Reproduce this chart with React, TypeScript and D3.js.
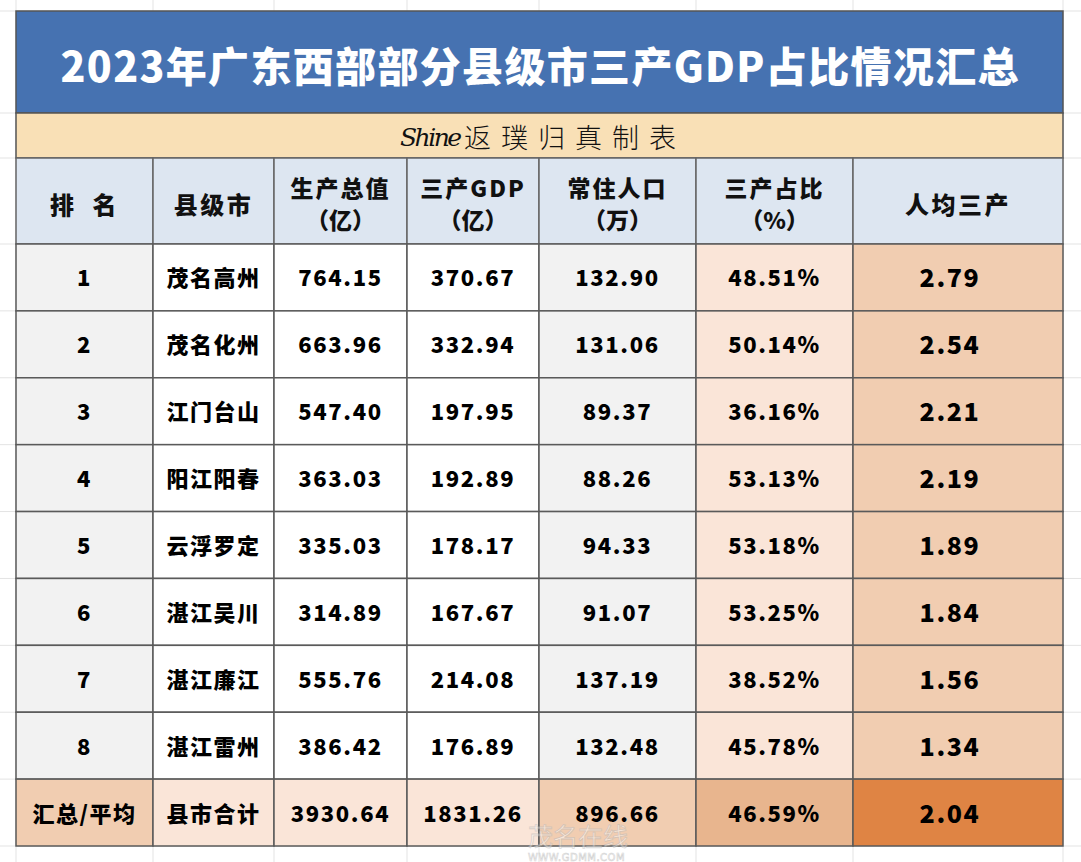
import React from 'react'
import * as d3 from 'd3'

// 表格数据
const ranks = ['1', '2', '3', '4', '5', '6', '7', '8']
const cities = ['茂名高州', '茂名化州', '江门台山', '阳江阳春', '云浮罗定', '湛江吴川', '湛江廉江', '湛江雷州']
const gdpTotal = [764.15, 663.96, 547.40, 363.03, 335.03, 314.89, 555.76, 386.42]
const tertiaryGdp = [370.67, 332.94, 197.95, 192.89, 178.17, 167.67, 214.08, 176.89]
const population = [132.90, 131.06, 89.37, 88.26, 94.33, 91.07, 137.19, 132.48]
const tertiaryShare = [48.51, 50.14, 36.16, 53.13, 53.18, 53.25, 38.52, 45.78]
const perCapita = [2.79, 2.54, 2.21, 2.19, 1.89, 1.84, 1.56, 1.34]

const summaryRow = ['汇总/平均', '县市合计', 3930.64, 1831.26, 896.66, 46.59, 2.04]

const headerTop = ['排  名', '县级市', '生产总值', '三产GDP', '常住人口', '三产占比', '人均三产']
const headerBottom = ['', '', '（亿）', '（亿）', '（万）', '（%）', '']

const title = '2023年广东西部部分县级市三产GDP占比情况汇总'
const subtitleLatin = 'Shine'
const subtitleCjk = '返璞归真制表'

const W = 1081
const H = 862
const colWidths = [137, 121, 133, 132, 157, 157, 210]
const tableLeft = 16
const edges = colWidths.reduce((acc, w) => [...acc, acc[acc.length - 1] + w], [tableLeft])
const tableRight = edges[edges.length - 1]

const font = '"Noto Sans CJK SC", "Noto Sans", sans-serif'
const fmt = d3.format('.2f')

// 列底色
const colFill = ['#f2f2f2', '#ffffff', '#ffffff', '#ffffff', '#f2f2f2', '#fae5d8', '#f1cdb1']
const sumFill = ['#f1cdb1', '#fae5d8', '#fae5d8', '#fae5d8', '#f1cdb1', '#e8b58e', '#df8444']

const App = () => {
    const nRows = ranks.length + 1
    const y = d3.scaleLinear().domain([0, nRows]).range([244, 846])
    const rowH = y(1) - y(0)

    const rows = ranks.map((r, i) => [
        r,
        cities[i],
        fmt(gdpTotal[i]),
        fmt(tertiaryGdp[i]),
        fmt(population[i]),
        fmt(tertiaryShare[i]) + '%',
        fmt(perCapita[i]),
    ])
    const sumCells = summaryRow.map((v, j) =>
        typeof v === 'number' ? (j === 5 ? fmt(v) + '%' : fmt(v)) : v)
    const allRows = [...rows, sumCells]

    const gridYs = [11, 113, 158, ...d3.range(nRows + 1).map(i => y(i))]

    return (
        <div style={{ position: 'absolute', left: 0, top: 0 }}>
            <svg width={W} height={H} style={{ display: 'block', background: '#fff' }}>
                {/* 表格背景网格 */}
                <g stroke="#e3e3e3" strokeWidth={1}>
                    {edges.map((x, i) => <line key={'gx' + i} x1={x} x2={x} y1={0} y2={H} />)}
                    {gridYs.map((gy, i) => <line key={'gy' + i} x1={0} x2={W} y1={gy} y2={gy} />)}
                </g>

                {/* 标题 */}
                <rect x={tableLeft} y={11} width={tableRight - tableLeft} height={102} fill="#4672b1" stroke="#555" strokeWidth={1.5} />
                <text x={(tableLeft + tableRight) / 2} y={64} textAnchor="middle" dominantBaseline="central"
                    fontFamily={font} fontWeight={900} fontSize={41} fill="#fff"
                    textLength={958} lengthAdjust="spacing">{title}</text>

                {/* 副标题 */}
                <rect x={tableLeft} y={113} width={tableRight - tableLeft} height={45} fill="#f9e0b6" stroke="#555" strokeWidth={1.5} />
                <text x={400} y={137} dominantBaseline="central"
                    fontFamily='"DejaVu Serif", serif' fontStyle="italic"
                    fontSize={25} fill="#111" textLength={62} lengthAdjust="spacing">{subtitleLatin}</text>
                <text x={464} y={136} dominantBaseline="central"
                    fontFamily={font} fontWeight={300}
                    fontSize={27} fill="#111" textLength={212} lengthAdjust="spacing">{subtitleCjk}</text>

                {/* 表头 */}
                {headerTop.map((h, j) => {
                    const cx = (edges[j] + edges[j + 1]) / 2
                    const two = headerBottom[j] !== ''
                    return (
                        <g key={'h' + j}>
                            <rect x={edges[j]} y={158} width={colWidths[j]} height={86} fill="#dde6f1" stroke="#666" strokeWidth={1.5} />
                            <text x={cx} y={two ? 187 : 203} textAnchor="middle" dominantBaseline="central"
                                fontFamily={font} fontWeight={900} fontSize={two ? 23 : 24} fill="#111"
                                letterSpacing={two ? 2 : 2.5} style={{ whiteSpace: 'pre' }}>{h}</text>
                            {two && (
                                <text x={cx} y={219} textAnchor="middle" dominantBaseline="central"
                                    fontFamily={font} fontWeight={900} fontSize={23} fill="#111">{headerBottom[j]}</text>
                            )}
                        </g>
                    )
                })}

                {/* 数据行 */}
                {allRows.map((row, i) => {
                    const isSum = i === allRows.length - 1
                    return (
                        <g key={'r' + i}>
                            {row.map((cell, j) => {
                                const cx = (edges[j] + edges[j + 1]) / 2 - (j === 6 ? 8 : 0)
                                return (
                                    <g key={'c' + j}>
                                        <rect x={edges[j]} y={y(i)} width={colWidths[j]} height={rowH}
                                            fill={isSum ? sumFill[j] : colFill[j]} stroke="#5a5a5a" strokeWidth={1.5} />
                                        <text x={cx} y={y(i) + rowH / 2 - 1} textAnchor="middle" dominantBaseline="central"
                                            fontFamily={font} fontWeight={900}
                                            fontSize={j === 6 ? 25 : 22} fill="#000"
                                            letterSpacing={j === 1 || (isSum && j === 0) ? 1.5 : 1.6}>{cell}</text>
                                    </g>
                                )
                            })}
                        </g>
                    )
                })}

                {/* 水印 */}
                <g opacity={0.5}>
                    <text x={528} y={846} fontFamily={font} fontWeight={400} fontSize={25}
                        fill="#ffffff" stroke="#b8b8b8" strokeWidth={0.8}>茂名在线</text>
                    <text x={528} y={861} fontFamily='"DejaVu Sans", sans-serif' fontSize={10}
                        fill="#ffffff" stroke="#aaa" strokeWidth={0.6} letterSpacing={0.5}>WWW.GDMM.COM</text>
                </g>
            </svg>
        </div>
    )
}

export default App
